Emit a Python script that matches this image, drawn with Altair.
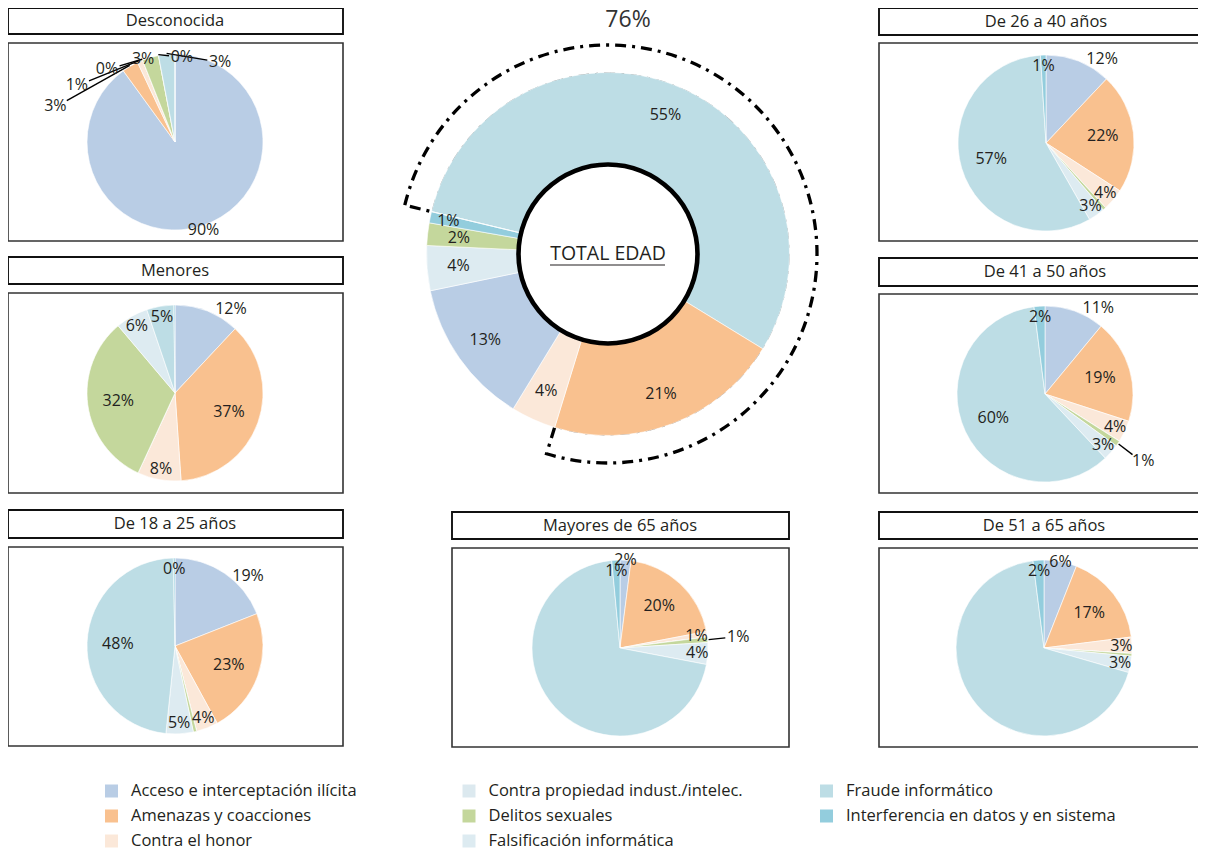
import math
import altair as alt
import pandas as pd

# ---------------- data ----------------
CATS = ["Acceso  e interceptación ilícita", "Amenazas y coacciones", "Contra el honor",
        "Contra propiedad indust./intelec.", "Delitos sexuales", "Falsificación informática",
        "Fraude informático", "Interferencia en datos y en sistema"]
COLORS = ["#B9CDE5", "#F9C18F", "#FBE8D9", "#DCE9EF", "#C4D79C", "#DDEBF1", "#BDDDE5", "#93CDDD"]

desconocida_vals = [90, 3, 1, 0, 3, 0, 3, 0]
desconocida_lbls = ["90%", "3%", "1%", "0%", "3%", "0%", "3%", ""]
menores_vals = [12, 37, 8, 0, 32, 6, 5, 0.2]
menores_lbls = ["12%", "37%", "8%", "", "32%", "6%", "5%", ""]
e18_25_vals = [19, 23, 4, 0, 0.6, 5, 48, 0.3]
e18_25_lbls = ["19%", "23%", "4%", "", "", "5%", "48%", "0%"]
e26_40_vals = [12, 22, 4, 0, 0.6, 3, 57, 1]
e26_40_lbls = ["12%", "22%", "4%", "", "", "3%", "57%", "1%"]
e41_50_vals = [11, 19, 4, 0, 1, 3, 60, 2]
e41_50_lbls = ["11%", "19%", "4%", "", "1%", "3%", "60%", "2%"]
e51_65_vals = [6, 17, 3, 0, 0.5, 3, 68.5, 2]
e51_65_lbls = ["6%", "17%", "3%", "", "", "3%", "", "2%"]
mayores_vals = [2, 20, 1, 0, 1, 4, 70.5, 1.5]
mayores_lbls = ["2%", "20%", "1%", "", "1%", "4%", "", "1%"]

TOTAL_ORDER = ["Fraude informático", "Amenazas y coacciones", "Contra el honor",
               "Acceso  e interceptación ilícita", "Falsificación informática", "Delitos sexuales",
               "Interferencia en datos y en sistema", "Contra propiedad indust./intelec."]
total_vals = [55, 21, 4, 13, 4, 2, 1, 0]
total_lbls = ["55%", "21%", "4%", "13%", "4%", "2%", "1%", ""]
TOTAL_TITLE = "TOTAL EDAD"

# ---------------- styles ----------------
FONT = "Open Sans"
TXT = "#231F20"
TWO_PI = 2 * math.pi
R = 88
theta_scale = alt.Scale(domain=[0, 1], range=[0, TWO_PI])
color_scale = alt.Scale(domain=CATS, range=COLORS)
ONE = pd.DataFrame({"k": [0]})


def frame(order, vals, lbls):
    return pd.DataFrame({"cat": order, "idx": list(range(len(order))), "value": vals, "label": lbls})


def base(df, start=0.0):
    return (alt.Chart(df)
            .transform_joinaggregate(total="sum(value)")
            .transform_window(cum="sum(value)", sort=[alt.SortField("idx")], frame=[None, 0])
            .transform_calculate(
                pct="100 * datum.value / datum.total",
                t0=f"{start} + (datum.cum - datum.value) / datum.total",
                t1=f"{start} + datum.cum / datum.total",
                tm=f"{start} + (datum.cum - datum.value / 2) / datum.total",
            ))


def box(x0, x1, y0, y1, sw=1.7, stroke="#222"):
    return alt.Chart(ONE).mark_rect(fill="white", stroke=stroke, strokeWidth=sw).encode(
        x=alt.value(x0), x2=alt.value(x1), y=alt.value(y0), y2=alt.value(y1))


def title_text(t, cx, cy):
    return alt.Chart(pd.DataFrame({"t": [t]})).mark_text(
        font=FONT, fontSize=16.5, color=TXT, baseline="middle").encode(
        text="t:N", x=alt.value(cx), y=alt.value(cy))


PX = alt.X("lx:Q", scale=None, axis=None)
PY = alt.Y("ly:Q", scale=None, axis=None)


def pie_labels(b, cx, cy, fan=None):
    lb = b.transform_filter("datum.label != ''").transform_window(
        prev_tm="lag(tm)", prev_pct="lag(pct)", next_tm="lead(tm)", next_pct="lead(pct)",
        sort=[alt.SortField("idx")])
    lb = lb.transform_calculate(
        push="datum.pct <= 1.5 && isValid(datum.prev_tm) && datum.prev_pct < 5 && "
             "datum.tm - datum.prev_tm < 0.035 && isValid(datum.next_tm) && "
             "datum.next_pct < 5 && datum.next_tm - datum.tm < 0.035",
        out="datum.pct >= 9 && datum.tm < 0.11",
        small="datum.pct < 5" if fan else "false",
    ).transform_calculate(
        f="datum.push ? 1.35 : (datum.out ? 1.15 : (datum.pct >= 80 ? 1.05 : "
          "(datum.pct >= 15 ? 0.65 : (datum.tm < 0.11 ? 1.0 : 0.88))))",
        ang="PI / 180 * (360 * datum.tm + (datum.out ? 12 : 0))",
    ).transform_window(srn="row_number()", groupby=["small"], sort=[alt.SortField("idx")]
    ).transform_joinaggregate(sn="count()", groupby=["small"])
    if fan:
        a0, a1, rx, ry = fan
        lb = lb.transform_calculate(
            fang=f"PI / 180 * ({a0} + (datum.srn - 1) * ({a1} - {a0}) / max(datum.sn - 1, 1))")
        lb = lb.transform_calculate(
            lx=f"datum.small ? {cx} + {rx} * sin(datum.fang) : {cx} + datum.f * {R} * sin(datum.ang)",
            ly=f"datum.small ? {cy} - {ry} * cos(datum.fang) : {cy} - datum.f * {R} * cos(datum.ang)",
            lead_on="datum.small || datum.push")
    else:
        lb = lb.transform_calculate(
            lx=f"{cx} + datum.f * {R} * sin(datum.ang)",
            ly=f"{cy} - datum.f * {R} * cos(datum.ang)",
            lead_on="datum.push")
    txt = lb.mark_text(font=FONT, fontSize=16, color=TXT, baseline="middle").encode(
        x=PX, y=PY, text="label:N")
    lead = lb.transform_filter("datum.lead_on").transform_calculate(
        ex=f"{cx} + {R + 1} * sin(2 * PI * datum.tm)",
        ey=f"{cy} - {R + 1} * cos(2 * PI * datum.tm)",
    ).transform_calculate(
        d="sqrt(pow(datum.ex - datum.lx, 2) + pow(datum.ey - datum.ly, 2))"
    ).transform_filter("datum.d > 16").transform_calculate(
        px="datum.lx + (datum.ex - datum.lx) * 13 / datum.d",
        py="datum.ly + (datum.ey - datum.ly) * 11 / datum.d",
    ).mark_rule(color="black", strokeWidth=1.4).encode(
        x=alt.X("px:Q", scale=None, axis=None), y=alt.Y("py:Q", scale=None, axis=None),
        x2="ex:Q", y2="ey:Q")
    return [lead, txt]


def pie(title, vals, lbls, cx, cy, bx0, bx1, ty0, ty1, by0, by1, fan=None):
    b = base(frame(CATS, vals, lbls))
    arcs = b.mark_arc(outerRadius=R, stroke="white", strokeWidth=0.6).encode(
        theta=alt.Theta("t0:Q", scale=theta_scale, stack=None),
        theta2="t1:Q",
        color=alt.Color("cat:N", scale=color_scale, legend=None),
        x=alt.value(cx), y=alt.value(cy))
    return [box(bx0, bx1, ty0, ty1, 1.9, "#111"), title_text(title, cx, (ty0 + ty1) / 2),
            box(bx0, bx1, by0, by1, 1.6, "#333"), arcs] + pie_labels(b, cx, cy, fan)


layers = []
layers += pie("Desconocida", desconocida_vals, desconocida_lbls, 167, 134, 0, 335, 0, 26, 35, 233,
              fan=(295, 380, 1.5 * R, 0.97 * R))
layers += pie("Menores", menores_vals, menores_lbls, 167, 385, 0, 335, 249, 276, 285, 485)
layers += pie("De 18 a 25 años", e18_25_vals, e18_25_lbls, 167, 638, 0, 335, 502, 530, 539, 738)
layers += pie("De 26 a 40 años", e26_40_vals, e26_40_lbls, 1038, 135, 871, 1210, 0, 27, 35, 233)
layers += pie("De 41 a 50 años", e41_50_vals, e41_50_lbls, 1037, 386, 871, 1210, 250, 278, 286, 485)
layers += pie("De 51 a 65 años", e51_65_vals, e51_65_lbls, 1036, 640, 871, 1210, 504, 531, 540, 739)
layers += pie("Mayores de 65 años", mayores_vals, mayores_lbls, 612, 640, 444, 781, 504, 531, 540, 739)

# ---------------- total donut ----------------
DCX, DCY = 600, 246
START = 283.5 / 360
tb = base(frame(TOTAL_ORDER, total_vals, total_lbls), START)
hl = tb.transform_filter("datum.idx < 2").transform_aggregate(
    a0="min(t0)", a1="max(t1)", s="sum(pct)").transform_calculate(
    txt="format(datum.s, '.0f') + '%'")
dashed = hl.mark_arc(outerRadius=209, innerRadius=179.8, fillOpacity=0, stroke="black",
                     strokeWidth=3.3, strokeDash=[11, 6, 3, 6]).encode(
    theta=alt.Theta("a0:Q", scale=theta_scale, stack=None), theta2="a1:Q",
    x=alt.value(DCX), y=alt.value(DCY))
hl_text = hl.mark_text(font=FONT, fontSize=23, color="#333", baseline="alphabetic").encode(
    text="txt:N", x=alt.value(620), y=alt.value(19))
donut = tb.mark_arc(outerRadius=181.5, innerRadius=86, stroke="white", strokeWidth=0.6).encode(
    theta=alt.Theta("t0:Q", scale=theta_scale, stack=None), theta2="t1:Q",
    color=alt.Color("cat:N", scale=color_scale, legend=None),
    x=alt.value(DCX), y=alt.value(DCY))
donut_lbl = tb.transform_filter("datum.label != ''").transform_calculate(
    lr="datum.pct < 1.5 ? 163 : 150").mark_text(
    font=FONT, fontSize=16, color=TXT, baseline="middle").encode(
    theta=alt.Theta("tm:Q", scale=theta_scale, stack=None),
    radius=alt.Radius("lr:Q", scale=None), text="label:N",
    x=alt.value(DCX), y=alt.value(DCY))
hole = alt.Chart(ONE).mark_arc(theta=0, theta2=TWO_PI, outerRadius=89.5, fill="white",
                               stroke="black", strokeWidth=4.6).encode(
    x=alt.value(DCX), y=alt.value(DCY))
center_txt = alt.Chart(pd.DataFrame({"t": [TOTAL_TITLE]})).mark_text(
    font=FONT, fontSize=19.5, color=TXT, baseline="middle").encode(
    text="t:N", x=alt.value(DCX), y=alt.value(DCY))
underline = alt.Chart(ONE).mark_rule(color=TXT, strokeWidth=1.2).encode(
    x=alt.value(542), x2=alt.value(657), y=alt.value(257))

layers += [dashed, donut, hole, donut_lbl, hl_text, center_txt, underline]

# ---------------- legend ----------------
leg = alt.Chart(pd.DataFrame({"cat": CATS})).transform_window(rn="row_number()").transform_calculate(
    col="floor((datum.rn - 1) / 3)", row="(datum.rn - 1) % 3")
lx = alt.X("col:Q", scale=alt.Scale(domain=[0, 2], range=[103.5, 818.5]), axis=None)
ly = alt.Y("row:Q", scale=alt.Scale(domain=[0, 2], range=[783, 833]), axis=None)
leg_sq = leg.mark_square(size=169, opacity=1).encode(
    x=lx, y=ly, color=alt.Color("cat:N", scale=color_scale, legend=None))
leg_tx = leg.mark_text(align="left", dx=19.5, font=FONT, fontSize=16.5, color=TXT,
                       baseline="middle").encode(x=lx, y=ly, text="cat:N")
layers += [leg_sq, leg_tx]

chart = alt.layer(*layers).resolve_scale(x="independent", y="independent").properties(
    width=1190, height=843, padding=0, background="white",
    autosize=alt.AutoSizeParams(type="none")
).configure_view(stroke=None)

chart.save("out.html", embed_options={"renderer": "svg", "actions": False})
